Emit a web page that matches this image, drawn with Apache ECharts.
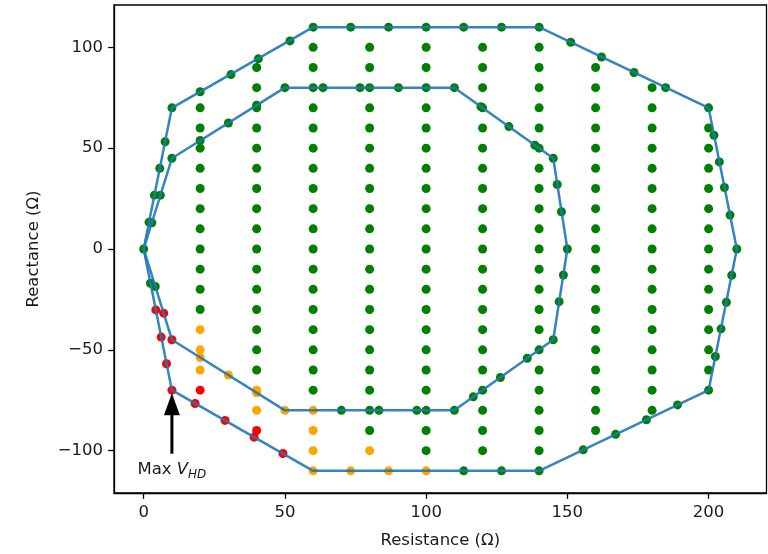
<!DOCTYPE html>
<html><head><meta charset="utf-8">
<script src="https://cdn.jsdelivr.net/npm/echarts@6/dist/echarts.min.js"></script>
<style>html,body{margin:0;padding:0;background:#fff}#c{width:768px;height:554px}</style>
</head><body><div id="c"></div><script>
const xTicks = [0, 50, 100, 150, 200];
const yTicks = [-100, -50, 0, 50, 100];

const outerPolygon = [[0,0],[10,70],[60,110],[140,110],[200,70],[210,0],[200,-70],[140,-110],[60,-110],[10,-70],[0,0]];
const innerPolygon = [[0,0],[10,45],[50,80],[110,80],[145,45],[150,0],[145,-45],[110,-80],[50,-80],[10,-45],[0,0]];

// grid points: [resistance, [reactance values]]
const gridGreen = [
  [20,  [70,60,50,40,30,20,10,0,-10,-20,-30]],
  [40,  [90,80,70,60,50,40,30,20,10,0,-10,-20,-30,-40,-50,-60]],
  [60,  [100,90,80,70,60,50,40,30,20,10,0,-10,-20,-30,-40,-50,-60,-70]],
  [80,  [100,90,80,70,60,50,40,30,20,10,0,-10,-20,-30,-40,-50,-60,-70,-80,-90]],
  [100, [100,90,80,70,60,50,40,30,20,10,0,-10,-20,-30,-40,-50,-60,-70,-80,-90,-100]],
  [120, [100,90,80,70,60,50,40,30,20,10,0,-10,-20,-30,-40,-50,-60,-70,-80,-90,-100]],
  [140, [100,90,80,70,60,50,40,30,20,10,0,-10,-20,-30,-40,-50,-60,-70,-80,-90,-100]],
  [160, [90,80,70,60,50,40,30,20,10,0,-10,-20,-30,-40,-50,-60,-70,-80,-90]],
  [180, [80,70,60,50,40,30,20,10,0,-10,-20,-30,-40,-50,-60,-70,-80]],
  [200, [60,50,40,30,20,10,0,-10,-20,-30,-40,-50,-60]]
];
const gridOrange = [[20,[-40,-50,-60]],[40,[-70,-80]],[60,[-80,-90,-100]],[80,[-100]]];
const gridRed = [[20,[-70]],[40,[-90]]];

// points on the boundaries
const edgeGreen = [
  [0,0],[1.9,13.3],[3.8,26.7],[5.7,40],[7.6,53.2],[10,70],[20,78],[30.9,86.5],[40.6,94.3],[51.8,103.2],[60,110],
  [73.3,110],[86.7,110],[100,110],[113.3,110],[126.7,110],[140,110],
  [151.2,102.5],[162.1,95.2],[173.6,87.5],[184.8,80],[200,70],
  [201.9,56.4],[203.8,43.2],[205.6,30.5],[207.6,16.8],[210,0],
  [208.2,-13],[206.3,-26.4],[204.4,-39.6],[202.4,-53.3],[200,-70],
  [189,-77.3],[178,-84.7],[167.1,-91.9],[155.6,-99.6],[140,-110],[126.7,-110],[113.3,-110],
  [2.4,-17],
  [2.9,13],[5.9,26.7],[10,45],[20,53.8],[30,62.5],[40,71.3],[50,80],[63.5,80],[76.6,80],[90.2,80],[110,80],
  [119.4,70.6],[129.3,60.7],[138.5,51.5],[145,45],[146.4,32],[147.9,18.5],[150,0],
  [148.6,-12.9],[147.1,-26.1],[145,-45],[135.8,-54.2],[126.3,-63.7],[116.7,-73.3],[110,-80],
  [96.7,-80],[83.3,-80],[70,-80],[4.1,-18.6]
];
const edgeOrange = [[100,-110],[86.7,-110],[73.3,-110],[60,-110],[50,-80],[40,-71.3],[30,-62.5],[20,-53.8]];
const edgeRed = [[49.3,-101.4],[39.1,-93.3],[28.8,-85],[18.2,-76.6],[10,-70],[8.1,-56.9],[6.2,-43.7],[4.3,-30.2],[10,-45],[7.1,-31.8]];

const annotTip = [10, -71.5];
const annotTail = [10, -101.5];
const annotLabelAt = [10, -108.5];

function expand(cols) {
  const out = [];
  cols.forEach(c => c[1].forEach(v => out.push([c[0], v])));
  return out;
}
const greenPts = expand(gridGreen).concat(edgeGreen);
const orangePts = expand(gridOrange).concat(edgeOrange);
const redPts = expand(gridRed).concat(edgeRed);

const FONT = 'DejaVu Sans';
const TXT = '#1a1a1a';
const FS = 16.5;
const minus = v => String(v).replace('-', '\u2212');

const chart = echarts.init(document.getElementById('c'), null, {renderer: 'canvas'});
const scat = (data, color) => ({
  type: 'scatter', data, symbol: 'circle', symbolSize: 9, z: 2,
  itemStyle: {color, opacity: 1}, silent: true
});
const axisCommon = {
  type: 'value', splitLine: {show: false},
  axisLine: {show: true, onZero: false, lineStyle: {color: '#000', width: 1.3}},
  axisTick: {show: true, inside: false, length: 5.8, lineStyle: {color: '#000', width: 1.3}},
  nameLocation: 'middle',
  nameTextStyle: {fontFamily: FONT, fontSize: FS, color: TXT}
};
chart.setOption({
  animation: false,
  backgroundColor: '#fff',
  grid: {left: 114, top: 5, width: 652.5, height: 488.5, show: true, borderColor: '#000', borderWidth: 1.3, containLabel: false},
  xAxis: Object.assign({}, axisCommon, {
    min: -10.5, max: 220.5, name: 'Resistance (\u03A9)', nameGap: 39,
    axisTick: Object.assign({}, axisCommon.axisTick, {customValues: xTicks}),
    axisLabel: {customValues: xTicks, margin: 11, fontFamily: FONT, fontSize: FS, color: TXT, formatter: minus}
  }),
  yAxis: Object.assign({}, axisCommon, {
    min: -121, max: 121, name: 'Reactance (\u03A9)', nameGap: 72,
    axisTick: Object.assign({}, axisCommon.axisTick, {customValues: yTicks}),
    axisLabel: {customValues: yTicks, margin: 11, fontFamily: FONT, fontSize: FS, color: TXT, formatter: minus}
  }),
  series: [
    scat(greenPts, '#008000'),
    scat(orangePts, '#ffa500'),
    scat(redPts, '#ff0000'),
    {type: 'line', data: outerPolygon, symbol: 'none', z: 3, lineStyle: {color: '#1f77b4', width: 2.5, opacity: 0.9}, silent: true},
    {type: 'line', data: innerPolygon, symbol: 'none', z: 3, lineStyle: {color: '#1f77b4', width: 2.5, opacity: 0.9}, silent: true},
    {
      type: 'custom', z: 5, silent: true, clip: false,
      data: [[annotTip[0], annotTip[1]]],
      encode: {x: 0, y: 1},
      renderItem: function (params, api) {
        const tip = api.coord(annotTip);
        const tail = api.coord(annotTail);
        const lab = api.coord(annotLabelAt);
        const headLen = 22, headHalf = 8;
        return {
          type: 'group',
          children: [
            {type: 'line', shape: {x1: tail[0], y1: tail[1], x2: tip[0], y2: tip[1] + headLen - 1}, style: {stroke: '#000', lineWidth: 3}},
            {type: 'polygon', shape: {points: [[tip[0], tip[1]], [tip[0] - headHalf, tip[1] + headLen], [tip[0] + headHalf, tip[1] + headLen]]}, style: {fill: '#000'}},
            {type: 'text', x: lab[0], y: lab[1] - 7,
              style: {
                text: '{a|Max }{b|V}{c|HD}', align: 'center', verticalAlign: 'top',
                rich: {
                  a: {fontFamily: FONT, fontSize: FS, fill: TXT, lineHeight: 20, verticalAlign: 'top'},
                  b: {fontFamily: FONT, fontSize: FS, fontStyle: 'italic', fill: TXT, lineHeight: 20, verticalAlign: 'top'},
                  c: {fontFamily: FONT, fontSize: 12, fontStyle: 'italic', fill: TXT, lineHeight: 14, verticalAlign: 'bottom'}
                }
              }
            }
          ]
        };
      }
    }
  ]
});
</script></body></html>
